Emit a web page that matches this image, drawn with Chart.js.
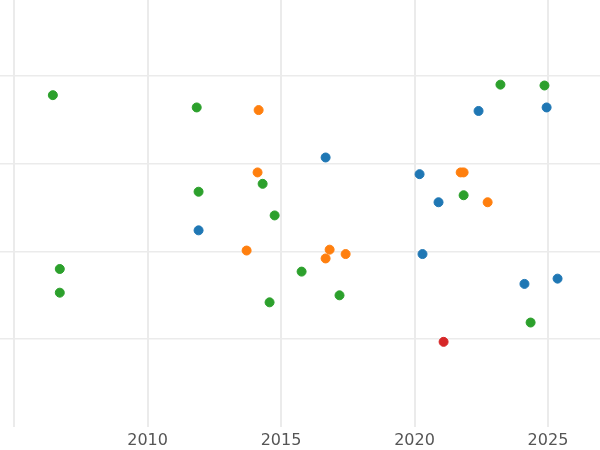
<!DOCTYPE html>
<html>
<head>
<meta charset="utf-8">
<script src="https://cdn.jsdelivr.net/npm/chart.js@4/dist/chart.umd.min.js"></script>
<style>
  html, body { margin: 0; padding: 0; background: #fff; }
  #wrap { width: 600px; height: 450px; }
</style>
</head>
<body>
<div id="wrap"><canvas id="chart"></canvas></div>
<script>
// values (x = year, y = unlabelled value)
const greenX = [2006.45, 2011.84, 2011.91, 2014.31, 2014.76, 2006.71, 2006.71, 2015.77, 2014.57, 2017.19, 2021.84, 2023.22, 2024.87, 2024.35];
const greenY = [3.78, 3.64, 2.68, 2.77, 2.41, 1.80, 1.53, 1.77, 1.42, 1.50, 2.64, 3.90, 3.89, 1.19];
const orangeX = [2014.16, 2014.12, 2013.71, 2016.82, 2016.67, 2017.42, 2021.73, 2021.84, 2022.74];
const orangeY = [3.61, 2.90, 2.01, 2.02, 1.92, 1.97, 2.90, 2.90, 2.56];
const blueX = [2016.67, 2011.91, 2020.19, 2020.90, 2022.40, 2024.95, 2020.30, 2024.12, 2025.36];
const blueY = [3.07, 2.24, 2.88, 2.56, 3.60, 3.64, 1.97, 1.63, 1.69];
const redX = [2021.09];
const redY = [0.97];

function pts(xs, ys) {
  return xs.map((x, i) => ({ x: x, y: ys[i] }));
}

function serie(xs, ys, color) {
  return {
    data: pts(xs, ys),
    backgroundColor: color,
    borderColor: color,
    pointRadius: 4.5,
    pointHoverRadius: 4.5
  };
}

new Chart(document.getElementById('chart'), {
  type: 'scatter',
  data: {
    datasets: [
      serie(blueX, blueY, '#1f77b4'),
      serie(orangeX, orangeY, '#ff7f0e'),
      serie(greenX, greenY, '#2ca02c'),
      serie(redX, redY, '#d62728')
    ]
  },
  options: {
    responsive: true,
    maintainAspectRatio: false,
    animation: false,
    layout: { padding: 0, autoPadding: false },
    plugins: { legend: { display: false }, tooltip: { enabled: false } },
    scales: {
      x: {
        type: 'linear',
        min: 2004.47,
        max: 2026.95,
        afterBuildTicks: (axis) => {
          axis.ticks = [2005, 2010, 2015, 2020, 2025].map(v => ({ value: v }));
        },
        afterFit: (axis) => { axis.height = 23; },
        border: { display: false },
        grid: { color: '#ebebeb', lineWidth: 2, drawTicks: false },
        ticks: {
          padding: 4,
          color: '#555',
          font: { family: 'DejaVu Sans', size: 16 },
          callback: (v) => (v === 2005 ? '' : String(v))
        }
      },
      y: {
        min: 0,
        max: 4.864,
        afterBuildTicks: (axis) => {
          axis.ticks = [1, 2, 3, 4].map(v => ({ value: v }));
        },
        afterFit: (axis) => { axis.width = 0; },
        border: { display: false },
        grid: { color: '#ebebeb', lineWidth: 1.5, drawTicks: false },
        ticks: { display: false }
      }
    }
  }
});
</script>
</body>
</html>
